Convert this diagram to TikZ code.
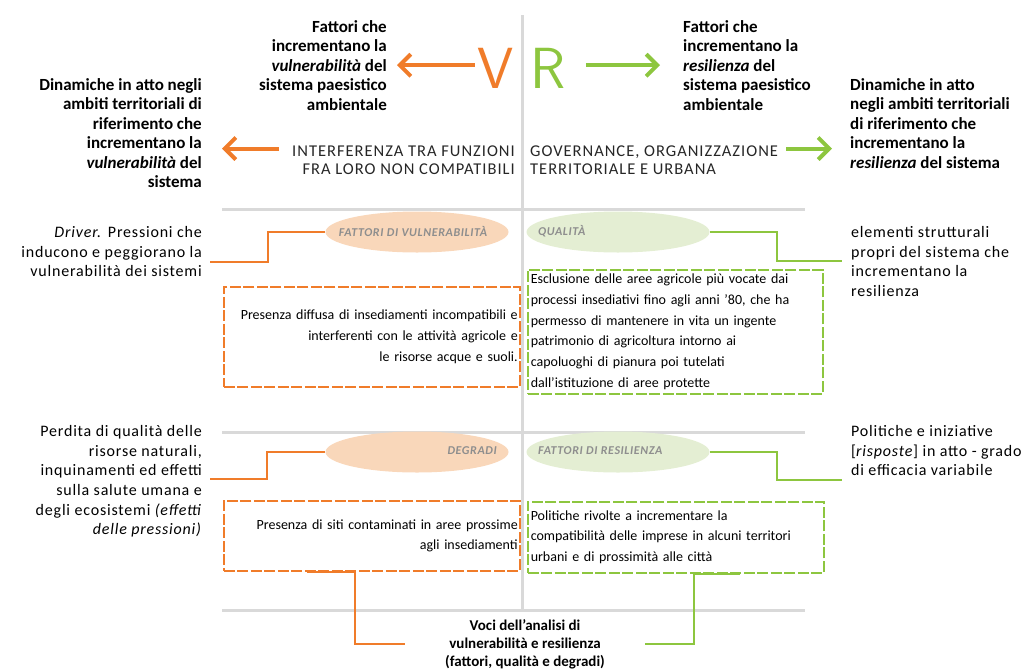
\documentclass[tikz,border=0pt]{standalone}
\usepackage{fontspec}
\setmainfont{Carlito}
\newfontfamily\sidef{Carlito}[LetterSpace=5]
\newfontfamily\capsf{Carlito}[LetterSpace=6]
\newfontfamily\labf{Carlito}[LetterSpace=5]
\usetikzlibrary{arrows.meta,shapes.geometric,calc}
\definecolor{vor}{HTML}{F07C2A}
\definecolor{vgr}{HTML}{8DC63F}
\definecolor{lor}{HTML}{F9D7BA}
\definecolor{lgr}{HTML}{E4EED3}
\definecolor{gline}{HTML}{D9D9D9}
\definecolor{labc}{HTML}{8E8E8E}
\begin{document}
\begin{tikzpicture}[x=1pt,y=-1pt,
  hb/.style={font=\fontsize{17}{19.5}\selectfont\bfseries, inner sep=0pt},
  sd/.style={font=\sidef\fontsize{16}{19.7}\selectfont, inner sep=0pt},
  cp/.style={font=\capsf\fontsize{16.5}{17.8}\selectfont, inner sep=0pt, text=black!85},
  bx/.style={font=\fontsize{14}{20.8}\selectfont, inner ysep=0pt},
  ob/.style={bx, draw=vor, line width=1.5pt, dash pattern=on 11pt off 2.5pt, align=right, inner xsep=2pt},
  gb/.style={bx, draw=vgr, line width=1.5pt, dash pattern=on 11pt off 2.5pt, align=left, inner xsep=3pt},
  el/.style={ellipse, minimum width=183pt, minimum height=41pt, inner sep=0pt},
  lb/.style={font=\labf\fontsize{12}{13}\selectfont\bfseries\itshape, text=labc, inner sep=0pt},
  ar/.style={line width=4pt, -{Straight Barb[length=11pt,width=22pt]}},
  cn/.style={line width=2pt},
  gl/.style={draw=gline, line width=3pt},
  bigl/.style={font=\sffamily\fontsize{58}{58}\selectfont, inner sep=0pt}
]
\useasboundingbox (0,0) rectangle (1033,670);
% grid
\draw[gl] (522,15) -- (522,610);
\draw[gl] (222,209) -- (805,209);
\draw[gl] (222,432) -- (805,432);
\draw[gl] (222,610) -- (805,610);
% top
\node[bigl, text=vor, anchor=base] (V) at (496,88) {V};
\node[bigl, text=vgr, anchor=base] (R) at (548,88) {R};
\node[hb, align=right, anchor=north east] (fv) at (387,20) {Fattori che\\incrementano la\\\textit{vulnerabilità} del\\sistema paesistico\\ambientale};
\node[hb, align=left, anchor=north west] (fr) at (683,20) {Fattori che\\incrementano la\\\textit{resilienza} del\\sistema paesistico\\ambientale};
\node[hb, align=right, anchor=north east] (dv) at (202,78) {Dinamiche in atto negli\\ambiti territoriali di\\riferimento che\\incrementano la\\\textit{vulnerabilità} del\\sistema};
\node[hb, align=left, anchor=north west] (dr) at (850,78) {Dinamiche in atto\\negli ambiti territoriali\\di riferimento che\\incrementano la\\\textit{resilienza} del sistema};
\node[cp, align=right, anchor=north east] (interf) at (515,146) {INTERFERENZA TRA FUNZIONI\\FRA LORO NON COMPATIBILI};
\node[cp, align=left, anchor=north west] (gov) at (530,146) {GOVERNANCE, ORGANIZZAZIONE\\TERRITORIALE E URBANA};
\draw[ar,vor] ($(V.west |- fv.east)+(-3,0)$) -- ($(fv.east)+(10,0)$);
\draw[ar,vgr] ($(R.east |- fr.west)+(20,0)$) -- ($(fr.west)+(-23,0)$);
\draw[ar,vor] ($(interf.west)+(-13,-12)$) -- ($(dv.east |- interf.west)+(20,-12)$);
\draw[ar,vgr] ($(gov.east)+(8,-12)$) -- ($(dr.west |- gov.east)+(-18,-12)$);
% middle row
\node[el, fill=lor] (efv) at (417,232) {};
\node[lb] (lfv) at (413,231) {FATTORI DI VULNERABILITÀ};
\node[el, fill=lgr] (eq) at (618,232) {};
\node[lb, anchor=west] (lq) at (538,231) {QUALITÀ};
\node[sd, align=right, anchor=north east] (drv) at (202,226) {\textit{Driver.} Pressioni che\\inducono e peggiorano la\\vulnerabilità dei sistemi};
\node[sd, align=left, anchor=north west] (elem) at (851,226) {elementi strutturali\\propri del sistema che\\incrementano la\\resilienza};
\draw[cn,vor] (efv.west) -- ++(-57,0) |- ($(drv.east)+(8,10)$);
\draw[cn,vgr] (eq.east) -- ++(67,0) |- ($(elem.west)+(-9,0)$);
\node[ob, text width=292pt, minimum height=100pt, anchor=north west] (b1) at (223,286) {Presenza diffusa di insediamenti incompatibili e\\interferenti con le attività agricole e\\le risorse acque e suoli.};
\node[gb, text width=289pt, minimum height=124pt, anchor=north west] (g1) at (527,269) {Esclusione delle aree agricole più vocate dai\\processi insediativi fino agli anni '80, che ha\\permesso di mantenere in vita un ingente\\patrimonio di agricoltura intorno ai\\capoluoghi di pianura poi tutelati\\dall'istituzione di aree protette};
% bottom row
\node[el, fill=lor] (edeg) at (417,452) {};
\node[lb, anchor=east] (ldeg) at (497,451) {DEGRADI};
\node[el, fill=lgr] (eres) at (618,452) {};
\node[lb, anchor=west] (lres) at (538,451) {FATTORI DI RESILIENZA};
\node[sd, align=right, anchor=north east] (perd) at (202,425) {Perdita di qualità delle\\risorse naturali,\\inquinamenti ed effetti\\sulla salute umana e\\degli ecosistemi \textit{(effetti}\\\textit{delle pressioni)}};
\node[sd, align=left, anchor=north west] (pol) at (851,425) {Politiche e iniziative\\{[}\textit{risposte}] in atto - grado\\di efficacia variabile};
\draw[cn,vor] (edeg.west) -- ++(-58,0) |- ($(perd.east)+(8,-2)$);
\draw[cn,vgr] (eres.east) -- ++(67,0) |- ($(pol.west)+(-9,29)$);
\node[ob, text width=292pt, minimum height=70pt, anchor=north west] (b2) at (223,500) {Presenza di siti contaminati in aree prossime\\agli insediamenti};
\node[gb, text width=290pt, minimum height=71pt, anchor=north west] (g2) at (527,501) {Politiche rivolte a incrementare la\\compatibilità delle imprese in alcuni territori\\urbani e di prossimità alle città};
\node[font=\fontsize{15}{18}\selectfont\bfseries, align=center, minimum width=240pt, inner sep=0pt] (voci) at (525,644) {Voci dell'analisi di\\vulnerabilità e resilienza\\(fattori, qualità e degradi)};
\draw[cn,vor] ($(b2.south west)+(84,0)$) -- ($(b2.south west)+(132,0)$) |- (voci.west);
\draw[cn,vgr] ($(g2.south west)+(213,0)$) -- ($(g2.south west)+(167,0)$) |- (voci.east);
\end{tikzpicture}
\end{document}
